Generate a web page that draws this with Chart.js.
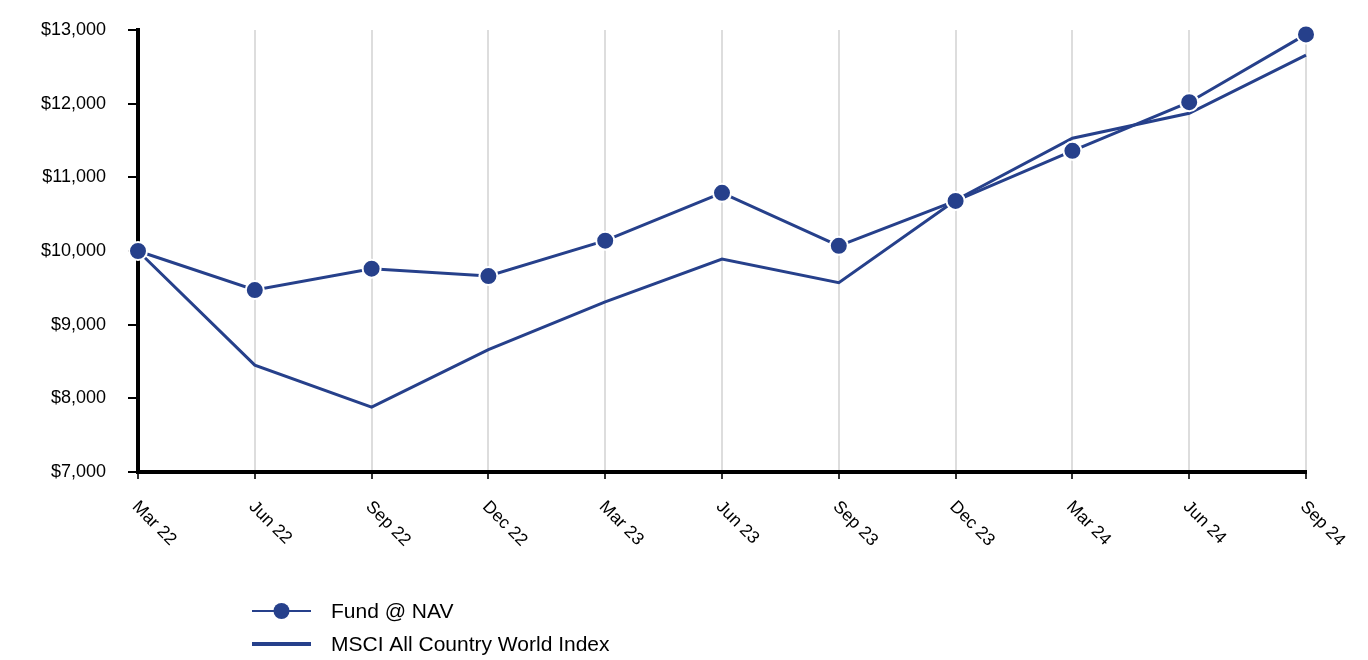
<!DOCTYPE html>
<html>
<head>
<meta charset="utf-8">
<script src="https://cdn.jsdelivr.net/npm/chart.js@4"></script>
<style>
  html, body { margin: 0; padding: 0; background: #fff; }
  #wrap { width: 1368px; height: 660px; position: relative; }
</style>
</head>
<body>
<div id="wrap"><canvas id="growthChart"></canvas></div>
<script>
const quarters = ["Mar 22", "Jun 22", "Sep 22", "Dec 22", "Mar 23", "Jun 23", "Sep 23", "Dec 23", "Mar 24", "Jun 24", "Sep 24"];
const fundNav = [10000, 9470, 9760, 9660, 10140, 10790, 10070, 10680, 11360, 12020, 12940];
const msciAcwi = [10000, 8450, 7880, 8660, 9310, 9890, 9570, 10690, 11530, 11870, 12660];
const seriesNames = ["Fund @ NAV", "MSCI All Country World Index"];

const navy = "#26408b";
const fontName = "'Liberation Sans', Arial, sans-serif";

// x labels go down-right from each tick, so draw them ourselves
const slantedLabels = {
  id: "slantedLabels",
  afterDraw(chart) {
    const ctx = chart.ctx;
    const xs = chart.scales.x;
    ctx.save();
    ctx.fillStyle = "#000";
    ctx.font = "17.5px " + fontName;
    ctx.textAlign = "left";
    ctx.textBaseline = "top";
    quarters.forEach((q, i) => {
      const px = xs.getPixelForValue(i);
      ctx.save();
      ctx.translate(px + 3, chart.chartArea.bottom + 26);
      ctx.rotate(Math.PI / 4);
      ctx.fillText(q, 0, 0);
      ctx.restore();
    });
    ctx.restore();
  }
};

const bottomLegend = {
  id: "bottomLegend",
  afterDraw(chart) {
    const ctx = chart.ctx;
    const x0 = 252, x1 = 311, tx = 331;
    const rows = [611, 644];
    ctx.save();
    ctx.strokeStyle = navy;
    // fund row: thin line with a dot
    ctx.lineWidth = 2;
    ctx.beginPath();
    ctx.moveTo(x0, rows[0]);
    ctx.lineTo(x1, rows[0]);
    ctx.stroke();
    ctx.fillStyle = navy;
    ctx.beginPath();
    ctx.arc((x0 + x1) / 2, rows[0], 8, 0, Math.PI * 2);
    ctx.fill();
    // index row: thick line
    ctx.lineWidth = 4;
    ctx.beginPath();
    ctx.moveTo(x0, rows[1]);
    ctx.lineTo(x1, rows[1]);
    ctx.stroke();
    ctx.fillStyle = "#000";
    ctx.font = "21px " + fontName;
    ctx.textAlign = "left";
    ctx.textBaseline = "middle";
    ctx.fillText(seriesNames[0], tx, rows[0] + 1);
    ctx.fillText(seriesNames[1], tx, rows[1] + 1);
    ctx.restore();
  }
};

new Chart(document.getElementById("growthChart"), {
  type: "line",
  data: {
    labels: quarters,
    datasets: [
      {
        label: seriesNames[0],
        data: fundNav,
        borderColor: navy,
        borderWidth: 3,
        backgroundColor: navy,
        pointRadius: 9,
        pointBorderWidth: 2,
        pointBorderColor: "#fff",
        pointBackgroundColor: navy,
        tension: 0,
        clip: false
      },
      {
        label: seriesNames[1],
        data: msciAcwi,
        borderColor: navy,
        borderWidth: 3,
        pointRadius: 0,
        tension: 0,
        clip: false
      }
    ]
  },
  options: {
    responsive: true,
    maintainAspectRatio: false,
    animation: false,
    layout: { padding: { top: 30, right: 62, bottom: 0, left: 0 } },
    plugins: {
      legend: { display: false },
      tooltip: { enabled: false }
    },
    scales: {
      x: {
        offset: false,
        border: { color: "#000", width: 4 },
        grid: { color: "#dddddd", lineWidth: 2, tickColor: "#333", tickLength: 7, drawTicks: true },
        ticks: { display: false },
        afterFit(scale) { scale.height = 188; }
      },
      y: {
        min: 7000,
        max: 13000,
        border: { color: "#000", width: 4 },
        grid: { drawOnChartArea: false, tickColor: "#000", tickLength: 10, lineWidth: 2 },
        ticks: {
          stepSize: 1000,
          color: "#000",
          padding: 22,
          font: { family: fontName, size: 18 },
          callback: v => "$" + v.toLocaleString("en-US")
        },
        afterFit(scale) {
          scale.width = 138;
          // tick padding would otherwise push the plot top down
          scale.paddingTop = 0;
          scale.paddingBottom = 0;
        }
      }
    }
  },
  plugins: [slantedLabels, bottomLegend]
});
</script>
</body>
</html>
